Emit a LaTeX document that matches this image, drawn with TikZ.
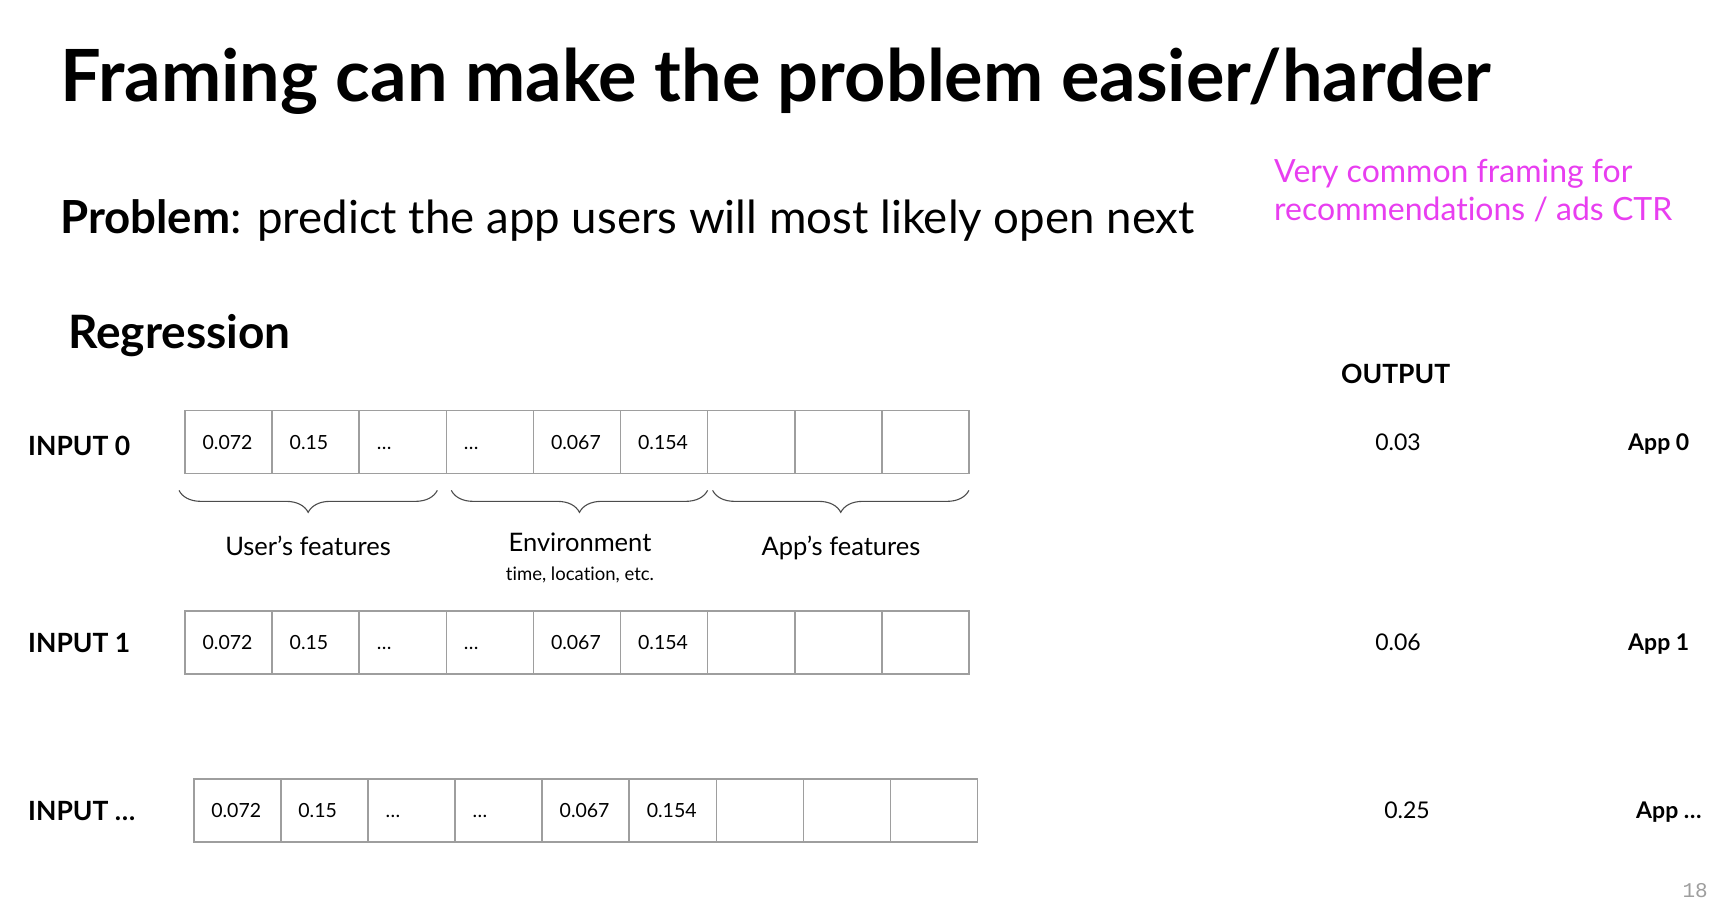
\documentclass[tikz,border=0pt]{standalone}
\usepackage{fontspec}
\setmainfont{Lato}[Ligatures=NoCommon]
\newfontfamily\pagenofont{Liberation Mono}
\usepackage{tikz}
\usetikzlibrary{positioning, decorations.pathreplacing, calc}
\definecolor{notepink}{RGB}{232, 62, 240}
\definecolor{cellgray}{RGB}{158, 158, 158}

\begin{document}
\begin{tikzpicture}[
    x=1pt, y=-1pt,
    txt/.style={anchor=base west, inner sep=0},
    title/.style={txt, font=\bfseries\fontsize{72}{80}\selectfont},
    problem/.style={txt, font=\fontsize{45.6}{54}\selectfont},
    note/.style={txt, text=notepink, font=\fontsize{32}{38}\selectfont},
    heading/.style={txt, font=\bfseries\fontsize{46}{52}\selectfont},
    rowlabel/.style={txt, font=\bfseries\fontsize{26.5}{30}\selectfont},
    value/.style={anchor=base, inner sep=0, font=\fontsize{23}{28}\selectfont},
    applabel/.style={txt, font=\bfseries\fontsize{23}{28}\selectfont},
    cell/.style={rectangle, draw=cellgray, line width=1.6pt, outer sep=0,
        minimum width=87.1pt, minimum height=62.7pt, text width=51.9pt,
        text height=14.5pt, text depth=0pt,
        inner xsep=17.6pt, align=left, font=\fontsize{19.5}{24}\selectfont},
    curly/.style={draw=black!70, line width=1.1pt,
        decorate, decoration={brace, mirror, amplitude=22pt}},
    bracelabel/.style={anchor=base, inner sep=0, font=\fontsize{25.5}{30}\selectfont}
]
    \useasboundingbox (0,0) rectangle (1726,906);

    \node[title] (title) at (60,101) {Framing can make the problem easier/harder};
    \node[problem] (problem) at (60,233) {\textbf{Problem}: predict the app users will most likely open next};
    \node[note] (note1) at (1274,182) {Very common framing for};
    \node[note] (note2) at (1274,220) {recommendations / ads CTR};
    \node[heading] (regression) at (68,348) {Regression};
    \node[rowlabel] (output) at (1341,383) {OUTPUT};

    % input rows
    \node[rowlabel] (in0) at (28,455) {INPUT 0};
    \node[rowlabel] (in1) at (28,652) {INPUT 1};
    \node[rowlabel] (in2) at (28,820) {INPUT \ldots};

    \foreach \r/\x/\y in {0/185/442, 1/185/642.5, 2/193.7/810.5} {
        \foreach \v [count=\c] in {0.072, 0.15, \ldots, \ldots, 0.067, 0.154, {}, {}, {}} {
            \node[cell] (r\r c\c) at (\x+87.1*\c-43.55, \y) {\v};
        }
    }

    % braces under the first row
    \draw[curly] ($(r0c1.south west)+(-6,17)$) -- ($(r0c3.south east)+(-9,17)$);
    \draw[curly] ($(r0c4.south west)+(5,17)$) -- ($(r0c6.south east)+(0,17)$);
    \draw[curly] ($(r0c7.south west)+(5,17)$) -- ($(r0c9.south east)+(0,17)$);

    \node[bracelabel] (users) at (308,555) {User’s features};
    \node[bracelabel] (env) at (580,551) {Environment};
    \node[anchor=base, inner sep=0, font=\fontsize{18.5}{22}\selectfont] (envsub) at (580,580) {time, location, etc.};
    \node[bracelabel] (appfeat) at (841,555) {App’s features};

    % outputs
    \node[value] (out0) at (1398,450) {0.03};
    \node[value] (out1) at (1398,650) {0.06};
    \node[value] (out2) at (1407,818) {0.25};
    \node[applabel] (app0) at (1628,450) {App 0};
    \node[applabel] (app1) at (1628,650) {App 1};
    \node[applabel] (app2) at (1636,818) {App \ldots};

    \node[anchor=base east, inner sep=0, text=cellgray, font=\pagenofont\fontsize{21}{24}\selectfont] (pageno) at (1708,897) {18};
\end{tikzpicture}
\end{document}
